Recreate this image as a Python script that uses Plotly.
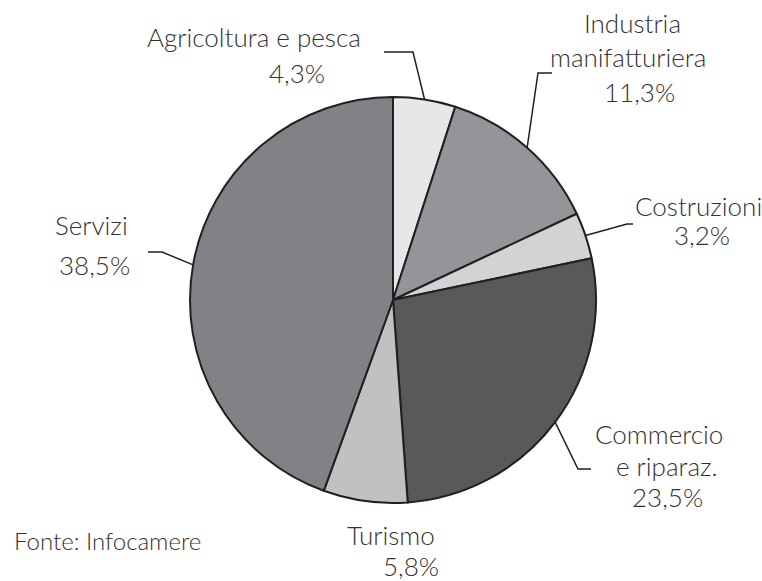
import math
import plotly.graph_objects as go

# ---- data ----
categories = ["Agricoltura e pesca", "Industria manifatturiera", "Costruzioni",
              "Commercio e riparaz.", "Turismo", "Servizi"]
values = [4.3, 11.3, 3.2, 23.5, 5.8, 38.5]
label_lines = [["Agricoltura e pesca"], ["Industria", "manifatturiera"], ["Costruzioni"],
               ["Commercio", "e riparaz."], ["Turismo"], ["Servizi"]]
source_text = "Fonte: Infocamere"

# ---- styling / layout (pixels) ----
W, H = 762, 581
colors = ["#e6e7e8", "#939598", "#d1d3d4", "#58595b", "#c0c1c3", "#808285"]
CX, CY, R = 393, 300, 203
FONT = "Lato"
FS = 26
TXT = "#333132"

# label line positions: list of (center_x, middle_y) per text line (name lines + value line)
label_pos = [
    [(254, 37), (297, 73)],
    [(632, 23), (628, 57), (639, 92)],
    [(698, 206), (702, 235)],
    [(659, 434), (667, 466), (667, 497)],
    [(391, 534), (411, 565)],
    [(91, 225), (94, 265)],
]
# explicit text-box heights per label group (None = automatic)
box_h = [None, None, None, None, 31, None]
# leader lines: (elbow, end) in pixels, None = no leader
leaders = [
    ((413, 52), (384, 52)),
    ((538, 73), (552, 73)),
    ((627, 224), (633, 224)),
    ((578, 469), (591, 469)),
    None,
    ((162, 252), (148, 252)),
]


def px(x):
    return x / W


def py(y):
    return (H - y) / H


fig = go.Figure(go.Pie(
    labels=categories,
    values=values,
    sort=False,
    direction="clockwise",
    rotation=0,
    marker=dict(colors=colors, line=dict(color="#231f20", width=2)),
    textinfo="none",
    hoverinfo="label+percent",
    showlegend=False,
    domain=dict(x=[px(CX - R), px(CX + R)], y=[py(CY + R), py(CY - R)]),
))

annotations = []
shapes = []
total = sum(values)
cum = 0.0
for i, v in enumerate(values):
    mid = (cum + v / 2) / total * 2 * math.pi
    cum += v
    texts = label_lines[i] + [f"{v:.1f}%".replace(".", ",")]
    for t, (x, y) in zip(texts, label_pos[i]):
        ann = dict(text=t, x=px(x), y=py(y), xref="paper", yref="paper",
                   xanchor="center", yanchor="middle", showarrow=False,
                   font=dict(family=FONT, size=FS, color=TXT, weight=300))
        if box_h[i] is not None:
            ann["height"] = box_h[i]
        annotations.append(ann)
    if leaders[i] is not None:
        sx = CX + R * math.sin(mid)
        sy = CY - R * math.cos(mid)
        (ex, ey), (fx, fy) = leaders[i]
        path = f"M {px(sx)} {py(sy)} L {px(ex)} {py(ey)} L {px(fx)} {py(fy)}"
        shapes.append(dict(type="path", path=path, xref="paper", yref="paper",
                           line=dict(color="#231f20", width=1.5)))

annotations.append(dict(text=source_text, x=px(12), y=py(540), xref="paper", yref="paper",
                        xanchor="left", yanchor="middle", showarrow=False,
                        font=dict(family=FONT, size=FS - 2, color=TXT, weight=300)))

fig.update_layout(
    width=W, height=H,
    margin=dict(l=0, r=0, t=0, b=0),
    paper_bgcolor="white", plot_bgcolor="white",
    annotations=annotations,
    shapes=shapes,
    font=dict(family=FONT),
)

fig.write_html("out.html", config={"displayModeBar": False},
               post_script="document.body.style.margin='0';document.body.style.overflow='hidden';")
